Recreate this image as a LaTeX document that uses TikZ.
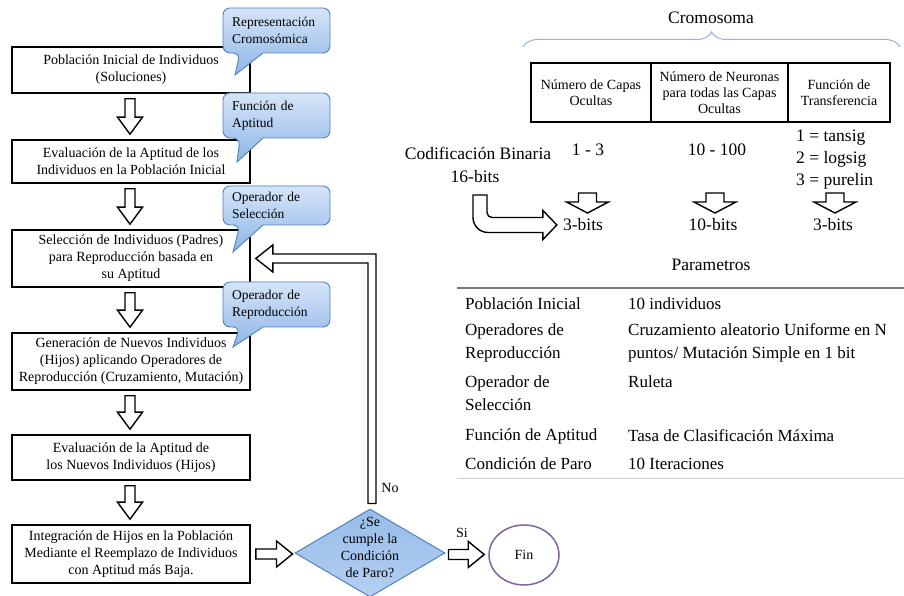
\documentclass[tikz,border=0pt]{standalone}
\usepackage{fontspec}
\setmainfont{Liberation Serif}
\usetikzlibrary{shapes.geometric,calc,decorations.pathreplacing}
\definecolor{callfillA}{RGB}{214,229,248}
\definecolor{callfillB}{RGB}{141,181,232}
\definecolor{callline}{RGB}{79,129,189}
\definecolor{dfillA}{RGB}{150,188,232}
\definecolor{dfillB}{RGB}{180,207,242}
\definecolor{finline}{RGB}{128,100,162}
\definecolor{bracecol}{RGB}{141,180,226}
\definecolor{ruleA}{RGB}{120,120,120}
\definecolor{ruleB}{RGB}{205,205,205}

\newcommand\dnarrow[2]{\draw[blockarrow] let \p1=#1, \p2=#2 in
  (\x1-5pt,\y1) -- (\x1+5pt,\y1) -- (\x1+5pt,\y2+17pt) -- (\x1+12.5pt,\y2+17pt)
  -- (\x1,\y2) -- (\x1-12.5pt,\y2+17pt) -- (\x1-5pt,\y2+17pt) -- cycle;}
\newcommand\rtarrow[2]{\draw[blockarrow] let \p1=#1, \p2=#2 in
  (\x1,\y1-5pt) -- (\x2-16pt,\y1-5pt) -- (\x2-16pt,\y1-13pt) -- (\x2,\y1)
  -- (\x2-16pt,\y1+13pt) -- (\x2-16pt,\y1+5pt) -- (\x1,\y1+5pt) -- cycle;}
\newcommand\wdarrow[1]{\draw[blockarrow] let \p1=#1 in
  (\x1-9pt,\y1+20pt) -- (\x1+9pt,\y1+20pt) -- (\x1+9pt,\y1+11pt) -- (\x1+21pt,\y1+11pt)
  -- (\x1,\y1) -- (\x1-21pt,\y1+11pt) -- (\x1-9pt,\y1+11pt) -- cycle;}
\newcommand\callout[5]{%
  \draw[callshape] let \p1=#2, \p2=#4 in [rounded corners=7pt]
  (\x1-13.5pt,\y1-#3/2) -- (\x1+53.5pt,\y1-#3/2) -- (\x1+53.5pt,\y1+#3/2)
  -- (\x1-53.5pt,\y1+#3/2) -- (\x1-53.5pt,\y1-#3/2) -- (\x1-36.5pt,\y1-#3/2)
  [sharp corners] -- (\x2,\y2) -- cycle;
  \node[calltext] (#1) at #2 {#5};}

\begin{document}
\begin{tikzpicture}[x=1pt,y=1pt,
  flowbox/.style={draw, line width=1.6pt, fill=white, minimum width=238pt, inner sep=2pt,
    align=center, font=\fontsize{14}{17}\selectfont},
  blockarrow/.style={draw, line width=1.4pt, fill=white, line join=miter},
  calltext/.style={text width=89pt, inner xsep=9pt, inner ysep=0pt, align=left,
    font=\fontsize{13.5}{17}\selectfont},
  callshape/.style={draw=callline, line width=0.9pt, top color=callfillA, bottom color=callfillB},
  cell/.style={draw, line width=1.6pt, minimum height=59pt, inner sep=1pt, align=center,
    font=\fontsize{14}{16}\selectfont},
  bigtext/.style={inner sep=0pt, font=\fontsize{17.5}{22}\selectfont, align=center},
  ptext/.style={inner sep=0pt, anchor=west, align=left, font=\fontsize{17}{23}\selectfont},
  smalltext/.style={inner sep=0pt, font=\fontsize{14}{17}\selectfont, align=center},
]
\useasboundingbox (0,0) rectangle (904,596);

% ---- flow boxes
\node[flowbox, minimum height=46pt] (b1) at (131,526) {Población Inicial de Individuos\\(Soluciones)};
\node[flowbox, minimum height=43pt] (b2) at (131,434.5) {Evaluación de la Aptitud de los\\Individuos en la Población Inicial};
\node[flowbox, minimum height=57pt] (b3) at (131,337.5) {Selección de Individuos (Padres)\\para Reproducción basada en\\su Aptitud};
\node[flowbox, minimum height=57pt] (b4) at (131,234.5) {Generación de Nuevos Individuos\\(Hijos) aplicando Operadores de\\Reproducción (Cruzamiento, Mutación)};
\node[flowbox, minimum height=45pt] (b5) at (131,138.5) {Evaluación de la Aptitud de\\los Nuevos Individuos (Hijos)};
\node[flowbox, minimum height=58pt] (b6) at (131,42) {Integración de Hijos en la Población\\Mediante el Reemplazo de Individuos\\con Aptitud más Baja.};

\dnarrow{($(b1.south)+(-1,-5)$)}{($(b2.north)+(-1,5)$)}
\dnarrow{($(b2.south)+(-1,-5)$)}{($(b3.north)+(-1,5)$)}
\dnarrow{($(b3.south)+(-1,-5)$)}{($(b4.north)+(-1,5)$)}
\dnarrow{($(b4.south)+(-1,-5)$)}{($(b5.north)+(-1,5)$)}
\dnarrow{($(b5.south)+(-1,-5)$)}{($(b6.north)+(-1,5)$)}

% ---- callouts
\callout{c1}{(276.5,565.5)}{45pt}{(235,521)}{Representación\\Cromosómica}
\callout{c2}{(276.5,480.5)}{45pt}{(237,434)}{Función de\\Aptitud}
\callout{c3}{(276.5,390.5)}{39pt}{(233,344)}{Operador de\\Selección}
\callout{c4}{(276.5,291.5)}{45pt}{(233,249)}{Operador de\\Reproducción}

% ---- decision
\node[diamond, draw=callline, line width=1pt, top color=dfillA, bottom color=dfillB,
  minimum width=150pt, minimum height=88pt, inner sep=0pt] (d) at (370,43) {};
\node[smalltext] (dt) at (370,48.5) {¿Se\\cumple la\\Condición\\de Paro?};
\node[ellipse, draw=finline, line width=1.5pt, fill=white, minimum width=70pt,
  minimum height=60pt, inner sep=0pt, font=\fontsize{14}{17}\selectfont] (fin) at (524,41) {Fin};

\rtarrow{($(b6.east)+(5,0)$)}{($(d.west)+(-2,0)$)}
\rtarrow{($(d.east)+(3,-1.5)$)}{($(fin.west)+(-4,0)$)}

% "No" loop arrow back to selection
\draw[blockarrow] let \p1=($(d.north)+(2,5)$), \p2=($(b3.east)+(5,0)$) in
  (\x2,\y2) -- (\x2+17pt,\y2+13.5pt) -- (\x2+17pt,\y2+4.5pt) -- (\x1+4pt,\y2+4.5pt)
  -- (\x1+4pt,\y1) -- (\x1-4pt,\y1) -- (\x1-4pt,\y2-4.5pt) -- (\x2+17pt,\y2-4.5pt)
  -- (\x2+17pt,\y2-13.5pt) -- cycle;
\node[smalltext] (no) at (390,108) {No};
\node[smalltext] (si) at (462,63) {Si};

% ---- chromosome
\node[bigtext] (crom) at (711,578) {Cromosoma};
\draw[bracecol, line width=1pt, decorate, decoration={brace, amplitude=15pt}] (523,549) -- (900,549);
\node[cell, minimum width=120pt] (t1) at (591,503.5) {Número de Capas\\Ocultas};
\node[cell, minimum width=137pt] (t2) at (719.5,503.5) {Número de Neuronas\\para todas las Capas\\Ocultas};
\node[cell, minimum width=102pt] (t3) at (839,503.5) {Función de\\Transferencia};

\node[bigtext] (cod) at (478,443) {Codificación Binaria};
\node[bigtext] (b16) at (475,419) {16-bits};
\node[bigtext] (r13) at (588,446) {1 - 3};
\node[bigtext] (r10) at (717,446) {10 - 100};
\node[bigtext, anchor=west, align=left] (rf) at (796,436) {1 = tansig\\2 = logsig\\3 = purelin};
\node[bigtext] (bA) at (583,371) {3-bits};
\node[bigtext] (bB) at (713,371) {10-bits};
\node[bigtext] (bC) at (833,371) {3-bits};

\wdarrow{($(bA)+(4.5,12)$)}
\wdarrow{($(bB)+(2,12)$)}
\wdarrow{($(bC)+(2,12)$)}

\coordinate (bendS) at (480,401);
\draw[blockarrow] let \p1=(bendS), \p2=($(bA.west)+(-6,0)$) in
  (\x1-7pt,\y1) -- (\x1+7pt,\y1) -- (\x1+7pt,\y2+12.5pt)
  .. controls (\x1+7pt,\y2+9.7pt) and (\x1+9.2pt,\y2+7.5pt) .. (\x1+12pt,\y2+7.5pt)
  -- (\x2-14pt,\y2+7.5pt) -- (\x2-14pt,\y2+14.5pt) -- (\x2,\y2) -- (\x2-14pt,\y2-14.5pt)
  -- (\x2-14pt,\y2-7.5pt) -- (\x1+8pt,\y2-7.5pt)
  .. controls (\x1-0.3pt,\y2-7.5pt) and (\x1-7pt,\y2-0.8pt) .. (\x1-7pt,\y2+7.5pt) -- cycle;

% ---- parameters
\node[bigtext] (par) at (711,331) {Parametros};
\draw[ruleA, line width=1.5pt] (457,308) -- (904,308);
\draw[ruleB, line width=0.8pt] (457,118) -- (904,118);
\node[ptext] (p1) at (465,292) {Población Inicial};
\node[ptext] (p2) at (465,253.5) {Operadores de\\Reproducción};
\node[ptext] (p3) at (465,202.5) {Operador de\\Selección};
\node[ptext] (p4) at (465,160) {Función de Aptitud};
\node[ptext] (p5) at (465,132) {Condición de Paro};
\node[ptext] (v1) at (628,292) {10 individuos};
\node[ptext] (v2) at (628,253.5) {Cruzamiento aleatorio Uniforme en N\\puntos/ Mutación Simple en 1 bit};
\node[ptext] (v3) at (628,214) {Ruleta};
\node[ptext] (v4) at (628,160) {Tasa de Clasificación Máxima};
\node[ptext] (v5) at (628,132) {10 Iteraciones};
\end{tikzpicture}
\end{document}
